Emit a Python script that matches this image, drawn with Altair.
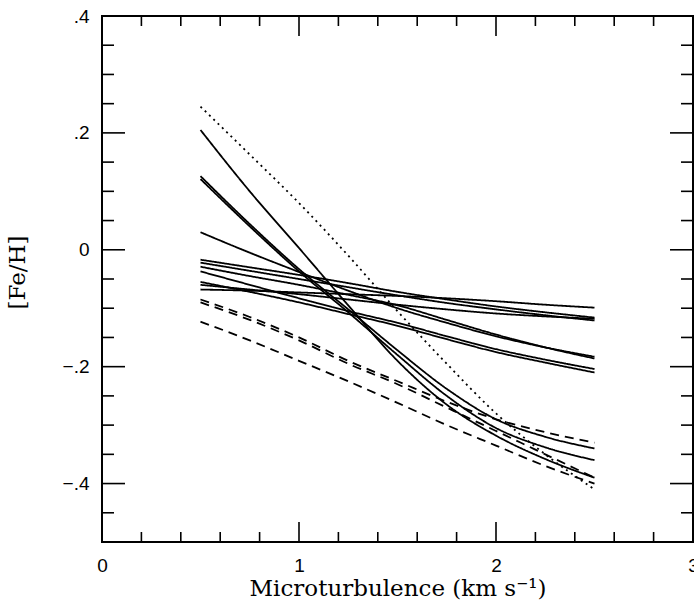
import altair as alt
import pandas as pd

# x grid shared by all curves (km/s)
X = [0.5, 0.75, 1.0, 1.25, 1.5, 1.75, 2.0, 2.25, 2.5]

# solid curves ([Fe/H] vs microturbulence)
solid_A = [0.205, 0.100, 0.003, -0.095, -0.190, -0.265, -0.318, -0.358, -0.390]
solid_B1 = [0.126, 0.044, -0.033, -0.102, -0.172, -0.238, -0.290, -0.320, -0.340]
solid_B2 = [0.121, 0.040, -0.037, -0.107, -0.180, -0.250, -0.305, -0.338, -0.360]
solid_C = [0.030, -0.005, -0.038, -0.070, -0.100, -0.125, -0.148, -0.167, -0.183]
solid_S1 = [-0.068, -0.070, -0.073, -0.076, -0.079, -0.083, -0.088, -0.094, -0.099]
solid_S2 = [-0.017, -0.030, -0.043, -0.057, -0.072, -0.085, -0.097, -0.107, -0.116]
solid_S3 = [-0.022, -0.036, -0.050, -0.064, -0.078, -0.091, -0.102, -0.112, -0.121]
solid_S4 = [-0.060, -0.068, -0.076, -0.085, -0.094, -0.102, -0.109, -0.114, -0.118]
solid_S6 = [-0.029, -0.045, -0.060, -0.077, -0.095, -0.120, -0.145, -0.167, -0.186]
solid_S7 = [-0.037, -0.060, -0.083, -0.105, -0.125, -0.148, -0.170, -0.188, -0.204]
solid_S8 = [-0.055, -0.072, -0.090, -0.110, -0.130, -0.153, -0.175, -0.193, -0.210]

# dashed curves
dashed_E1 = [-0.085, -0.115, -0.150, -0.190, -0.225, -0.260, -0.290, -0.312, -0.330]
dashed_E2 = [-0.090, -0.120, -0.155, -0.195, -0.230, -0.270, -0.310, -0.350, -0.390]
dashed_E3 = [-0.123, -0.155, -0.190, -0.225, -0.262, -0.300, -0.335, -0.370, -0.400]

# dotted curve
dotted_D = [0.245, 0.163, 0.080, -0.010, -0.105, -0.195, -0.280, -0.350, -0.410]

# axis ticks
x_major = [0, 1, 2, 3]
x_minor = [0.2, 0.4, 0.6, 0.8, 1.2, 1.4, 1.6, 1.8, 2.2, 2.4, 2.6, 2.8]
y_major = [-0.4, -0.2, 0.0, 0.2, 0.4]
y_minor = [-0.45, -0.35, -0.3, -0.25, -0.15, -0.1, -0.05,
           0.05, 0.1, 0.15, 0.25, 0.3, 0.35]

series = [
    ("A", "solid", solid_A), ("B1", "solid", solid_B1), ("B2", "solid", solid_B2),
    ("C", "solid", solid_C), ("S1", "solid", solid_S1), ("S2", "solid", solid_S2),
    ("S3", "solid", solid_S3), ("S4", "solid", solid_S4), ("S6", "solid", solid_S6),
    ("S7", "solid", solid_S7), ("S8", "solid", solid_S8),
    ("E1", "dashed", dashed_E1), ("E2", "dashed", dashed_E2), ("E3", "dashed", dashed_E3),
    ("D", "dotted", dotted_D),
]
rows = []
for name, style, ys in series:
    for xv, yv in zip(X, ys):
        rows.append({"series": name, "style": style, "x": xv, "y": yv})
df = pd.DataFrame(rows)

W, H = 591, 526
xscale = alt.Scale(domain=[0, 3], nice=False, zero=False)
yscale = alt.Scale(domain=[-0.5, 0.4], nice=False, zero=False)

xaxis = alt.Axis(
    values=x_major, format="d", labelFlush=False, ticks=False, domain=False, grid=False,
    labelPadding=14, labelFontSize=19, labelFont="Liberation Sans", labelColor="black",
    title="Microturbulence (km s\u207b\u00b9)", titleFont="DejaVu Serif", titleFontSize=23,
    titleFontWeight="normal", titleColor="black", titleY=53, titleBaseline="alphabetic")
yaxis = alt.Axis(
    values=y_major, ticks=False, domain=False, grid=False,
    labelExpr="datum.value == 0 ? '0' : replace(format(datum.value, '.1f'), '0.', '.')",
    labelPadding=13, labelFontSize=19, labelFont="Liberation Sans", labelColor="black",
    title="[Fe/H]", titleFont="DejaVu Serif", titleFontSize=23, titleFontWeight="normal",
    titleColor="black", titleX=-73, titleY=256)

lines = alt.Chart(df).mark_line(color="black", strokeWidth=1.8, interpolate="monotone").encode(
    x=alt.X("x:Q", scale=xscale, axis=xaxis),
    y=alt.Y("y:Q", scale=yscale, axis=yaxis),
    detail="series:N",
    strokeDash=alt.StrokeDash("style:N", scale=alt.Scale(
        domain=["solid", "dashed", "dotted"], range=[[1, 0], [9, 6], [2, 4]]), legend=None),
)

def xticks(vals, length):
    d = pd.DataFrame({"x": vals})
    bottom = alt.Chart(d).mark_rule(color="black", strokeWidth=1.6).encode(
        x=alt.X("x:Q", scale=xscale, axis=xaxis), y=alt.value(H), y2=alt.value(H - length))
    top = alt.Chart(d).mark_rule(color="black", strokeWidth=1.6).encode(
        x=alt.X("x:Q", scale=xscale, axis=xaxis), y=alt.value(0), y2=alt.value(length))
    return [bottom, top]

def yticks(vals, length):
    d = pd.DataFrame({"y": vals})
    left = alt.Chart(d).mark_rule(color="black", strokeWidth=1.6).encode(
        y=alt.Y("y:Q", scale=yscale, axis=yaxis), x=alt.value(0), x2=alt.value(length))
    right = alt.Chart(d).mark_rule(color="black", strokeWidth=1.6).encode(
        y=alt.Y("y:Q", scale=yscale, axis=yaxis), x=alt.value(W), x2=alt.value(W - length))
    return [left, right]

layers = [lines] + xticks(x_major, 20) + xticks(x_minor, 10) + yticks(y_major, 23) + yticks(y_minor, 12)

chart = alt.layer(*layers).properties(
    width=W, height=H,
    autosize=alt.AutoSizeParams(type="none"),
    padding={"left": 102, "top": 16, "right": 1, "bottom": 58},
    background="white",
).configure_view(stroke="black", strokeWidth=2)

chart.save("out.html", embed_options={"renderer": "svg", "actions": False})
